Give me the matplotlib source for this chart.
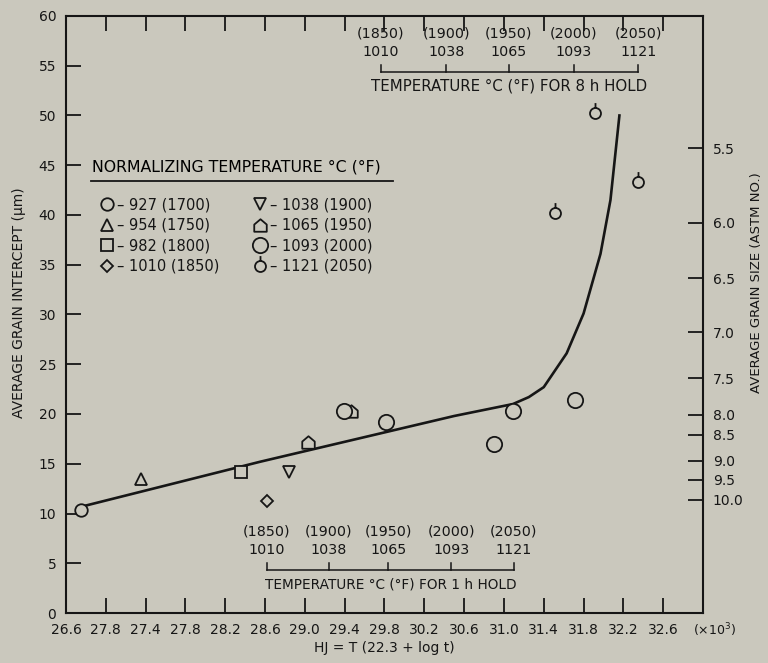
import matplotlib.pyplot as plt
from matplotlib.path import Path
from matplotlib.lines import Line2D

plt.rcParams['font.family'] = ['DejaVu Sans']

bg = '#cac8bd'
ink = '#161616'

# Hollomon-Jaffe parameter (x10^3) and grain intercept (um) for each normalizing temperature
hj_927 = [26.75]
um_927 = [10.4]
hj_954 = [27.35]
um_954 = [13.5]
hj_982 = [28.36]
um_982 = [14.2]
hj_1010 = [28.62]
um_1010 = [11.3]
hj_1038 = [28.84]
um_1038 = [14.2]
hj_1065 = [29.03, 29.46]
um_1065 = [17.2, 20.3]
hj_1093 = [29.39, 29.82, 30.90, 31.09, 31.71]
um_1093 = [20.3, 19.2, 17.0, 20.3, 21.4]
hj_1121 = [31.51, 31.91, 32.35]
um_1121 = [40.2, 50.2, 43.3]

# hand-drawn trend curve
curve_hj = [26.72, 28.55, 30.50, 31.09, 31.25, 31.40, 31.63, 31.80, 31.97, 32.07, 32.16]
curve_um = [10.6, 15.2, 19.8, 21.0, 21.7, 22.7, 26.1, 30.1, 36.1, 41.5, 50.0]

# axis ticks
hj_ticks = [26.6, 27.0, 27.4, 27.8, 28.2, 28.6, 29.0, 29.4, 29.8, 30.2, 30.6, 31.0, 31.4, 31.8, 32.2, 32.6]
hj_tick_labels = ['26.6', '27.8', '27.4', '27.8', '28.2', '28.6', '29.0', '29.4', '29.8',
                  '30.2', '30.6', '31.0', '31.4', '31.8', '32.2', '32.6']
um_ticks = [0, 5, 10, 15, 20, 25, 30, 35, 40, 45, 50, 55, 60]
astm_um = [46.7, 39.2, 33.65, 28.2, 23.6, 19.9, 17.9, 15.3, 13.4, 11.4]
astm_labels = ['5.5', '6.0', '6.5', '7.0', '7.5', '8.0', '8.5', '9.0', '9.5', '10.0']

# secondary temperature scales (1 h and 8 h holds)
temp_c = ['1010', '1038', '1065', '1093', '1121']
temp_f = ['(1850)', '(1900)', '(1950)', '(2000)', '(2050)']
hj_1h = [28.62, 29.24, 29.84, 30.47, 31.10]
hj_8h = [29.76, 30.42, 31.05, 31.70, 32.35]

# custom markers: "house" for 1065, circle with stem for 1121
house = Path([(-1, -1), (1, -1), (1, 0.15), (0, 1), (-1, 0.15), (-1, -1)],
             [Path.MOVETO, Path.LINETO, Path.LINETO, Path.LINETO, Path.LINETO, Path.CLOSEPOLY])
stem_circle = Path.make_compound_path(Path.unit_circle(),
                                      Path([(0, 1), (0, 1.9)], [Path.MOVETO, Path.LINETO]))

fig = plt.figure(figsize=(7.68, 6.63), dpi=100, facecolor=bg)
ax = fig.add_axes([0.0859, 0.0754, 0.8295, 0.9005], facecolor=bg)

ax.plot(curve_hj, curve_um, color=ink, lw=1.9, zorder=2)

series = [
    (hj_927, um_927, 'o', 9, '– 927 (1700)'),
    (hj_954, um_954, '^', 9, '– 954 (1750)'),
    (hj_982, um_982, 's', 9, '– 982 (1800)'),
    (hj_1010, um_1010, 'D', 6.5, '– 1010 (1850)'),
    (hj_1038, um_1038, 'v', 9, '– 1038 (1900)'),
    (hj_1065, um_1065, house, 9, '– 1065 (1950)'),
    (hj_1093, um_1093, 'o', 11, '– 1093 (2000)'),
    (hj_1121, um_1121, stem_circle, 15, '– 1121 (2050)'),
]
handles = []
for hj, um, mk, ms, lab in series:
    h, = ax.plot(hj, um, linestyle='none', marker=mk, ms=ms, mfc=bg, mec=ink,
                 mew=1.3, label=lab, zorder=3)
    handles.append(h)

leg = ax.legend(handles=handles, ncol=2, loc='upper left', bbox_to_anchor=(0.03, 0.772),
                frameon=False, fontsize=10.5, title='NORMALIZING TEMPERATURE °C (°F)\n',
                title_fontsize=11.3, handlelength=0.8, handletextpad=0.3,
                columnspacing=2.4, labelspacing=0.38, borderpad=0)
for t in leg.get_texts():
    t.set_color(ink)
ax.add_line(Line2D([0.04, 0.513], [0.724, 0.724], transform=ax.transAxes,
                   color=ink, lw=1.3))


def temp_scale(hj_pos, y_line, title, title_size):
    ax.plot([hj_pos[0], hj_pos[-1]], [y_line, y_line], color=ink, lw=1.1)
    for x, c, f in zip(hj_pos, temp_c, temp_f):
        ax.plot([x, x], [y_line, y_line + 0.7], color=ink, lw=1.1)
        ax.text(x, y_line + 2.0, c, ha='center', va='center', fontsize=10.3, color=ink)
        ax.text(x, y_line + 3.85, f, ha='center', va='center', fontsize=10.3, color=ink)
    ax.text((hj_pos[0] + hj_pos[-1]) / 2, y_line - 1.4, title, ha='center', va='center',
            fontsize=title_size, color=ink)


temp_scale(hj_1h, 4.3, 'TEMPERATURE °C (°F) FOR 1 h HOLD', 9.8)
temp_scale(hj_8h, 54.4, 'TEMPERATURE °C (°F) FOR 8 h HOLD', 10.8)

ax.set_xlim(26.6, 33.0)
ax.set_ylim(0, 60)
ax.set_xticks(hj_ticks)
ax.set_xticklabels(hj_tick_labels)
ax.set_yticks(um_ticks)
ax.tick_params(axis='both', direction='in', length=11, width=1.3, labelsize=10,
               colors=ink, pad=7, top=True)
ax.set_xlabel('HJ = T (22.3 + log t)', fontsize=10, color=ink, labelpad=3)
ax.set_ylabel('AVERAGE GRAIN INTERCEPT (μm)', fontsize=10, color=ink)
ax.yaxis.set_label_coords(-0.062, 0.52)
for s in ax.spines.values():
    s.set_linewidth(1.5)
    s.set_color(ink)

ax2 = ax.twinx()
ax2.set_ylim(0, 60)
ax2.set_yticks(astm_um)
ax2.set_yticklabels(astm_labels)
ax2.tick_params(axis='y', direction='in', length=11, width=1.3, labelsize=10,
                colors=ink, pad=7)
ax2.set_ylabel('AVERAGE GRAIN SIZE (ASTM NO.)', fontsize=9.5, color=ink)
ax2.yaxis.set_label_coords(1.074, 0.553)
for s in ax2.spines.values():
    s.set_visible(False)

fig.text(715 / 768, 1 - 630 / 663, '(×10$^3$)', ha='center', va='center', fontsize=9, color=ink)

fig.savefig('out.png', dpi=100, facecolor=bg)
